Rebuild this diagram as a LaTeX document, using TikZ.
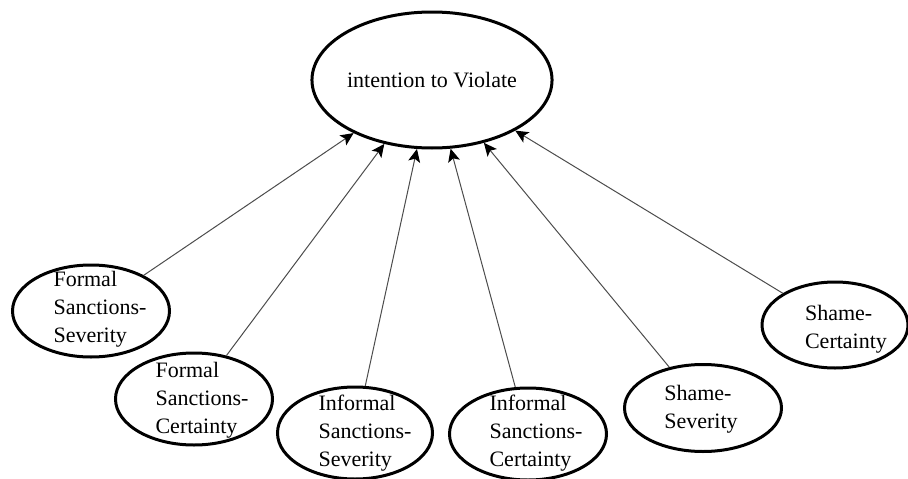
\documentclass[tikz,border=0pt]{standalone}
\usepackage{fontspec}
\setmainfont{Liberation Serif}
\usetikzlibrary{shapes.geometric,arrows.meta}

\begin{document}
\begin{tikzpicture}[x=1pt, y=-1pt,
  oval/.style={draw, ellipse, line width=3pt, inner sep=0pt, minimum width=157, minimum height=92},
  lbl/.style={align=left, inner sep=0pt, font=\fontsize{22}{28}\selectfont},
  link/.style={-{Stealth[length=13pt,width=12pt,inset=3pt,black]}, line width=1pt, black!70}]
  \useasboundingbox (0,0) rectangle (908,479);
  \node[oval, minimum width=240, minimum height=136, font=\fontsize{22}{28}\selectfont] (itv) at (432,80) {intention to Violate};

  \node[oval] (fss) at (91,311) {};
  \node[oval] (fsc) at (194,399) {};
  \node[oval, minimum width=155] (iss) at (355,433) {};
  \node[oval] (isc) at (528,434) {};
  \node[oval, minimum height=87] (ssv) at (703,408) {};
  \node[oval, minimum width=146, minimum height=86] (scr) at (835,325) {};

  \node[lbl] (fsst) at (100,309) {Formal\\Sanctions-\\Severity};
  \node[lbl] (fsct) at (202,400) {Formal\\Sanctions-\\Certainty};
  \node[lbl] (isst) at (365,433) {Informal\\Sanctions-\\Severity};
  \node[lbl] (isct) at (536,433) {Informal\\Sanctions-\\Certainty};
  \node[lbl] (ssvt) at (701,409) {Shame-\\Severity};
  \node[lbl] (scrt) at (846,329) {Shame-\\Certainty};

  \draw[link] (fss) -- (itv);
  \draw[link] (fsc) -- (itv);
  \draw[link] (iss) -- (itv);
  \draw[link] (isc) -- (itv);
  \draw[link] (ssv) -- (itv);
  \draw[link] (scr) -- (itv);
\end{tikzpicture}
\end{document}
